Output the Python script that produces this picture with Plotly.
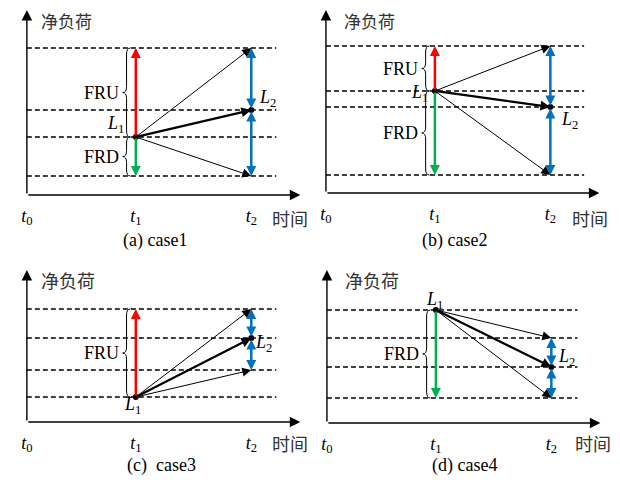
import plotly.graph_objects as go

# ---------------- data ----------------
CAPTIONS = ["(a) case1", "(b) case2", "(c)  case3", "(d) case4"]
L1 = [5.8, 10.2, 2.5, 11.3]          # net load at t1
L2 = [8.5, 8.6, 8.4, 5.6]            # net load at t2
FRU_TOP = [14.7, 14.7, 11.3, None]   # L1 + FRU
FRD_BOTTOM = [1.9, 1.8, None, 2.5]   # L1 - FRD
T2_UPPER = [14.7, 14.7, 11.3, 8.5]   # upper reachable level at t2
T2_LOWER = [1.9, 1.8, 5.2, 2.5]      # lower reachable level at t2
TIME_POS = [0, 1, 2.06]
TIME_LABELS = ["<i>t</i><sub>0</sub>", "<i>t</i><sub>1</sub>", "<i>t</i><sub>2</sub>"]
Y_TITLE = "净负荷"
X_TITLE = "时间"
L1_TEXT = "<i>L</i><sub>1</sub>"
L2_TEXT = "<i>L</i><sub>2</sub>"

# ---------------- layout / style ----------------
W, H = 620, 484
OFF = 8               # page body margin compensation (px)
SX, SY = 110.0, 10.0  # px per data unit
YMIN = -6.0
PANELS = [
    dict(ox=21, oy=195, yrange=18.6, ytop=18.5, xtip=2.51, dash=2.29, ysize=17,
         l1=(-0.09, 1.3, "right"), l2=(0.05, 1.2), ylab=(0.11, 17.5), xlab=(2.42, -2.3), cap=(1.18, -4.5)),
    dict(ox=323, oy=193, yrange=18.4, ytop=18.3, xtip=2.51, dash=2.37, ysize=17,
         l1=(-0.045, -0.2, "right"), l2=(0.08, -1.3), ylab=(0.15, 17.3), xlab=(2.42, -2.5), cap=(1.18, -4.7)),
    dict(ox=21, oy=422, yrange=16, ytop=15.2, xtip=2.51, dash=2.29, ysize=18,
         l1=(-0.03, -0.8, "center"), l2=(0.02, -0.5), ylab=(0.11, 14.2), xlab=(2.42, -2.1), cap=(1.24, -4.3)),
    dict(ox=324, oy=423, yrange=16, ytop=15.3, xtip=2.51, dash=2.30, ysize=18,
         l1=(-0.01, 1.0, "center"), l2=(0.04, 1.0), ylab=(0.15, 14.3), xlab=(2.44, -2.0), cap=(1.26, -4.2)),
]
RED, GREEN, BLUE = "#FF0000", "#00B050", "#0070C0"
SERIF = "Liberation Serif"
CJK = "Noto Sans CJK SC"
XMAX = 2.55

fig = go.Figure()
layout = {}
shapes = []
annotations = []


def clamp(v):
    return min(1.0, max(0.0, v))


def arrow(xr, yr, x0, y0, x1, y1, color, width, head, size, both=False):
    annotations.append(dict(
        x=x1, y=y1, ax=x0, ay=y0, xref=xr, yref=yr, axref=xr, ayref=yr,
        text="", showarrow=True, arrowhead=head, arrowsize=size, arrowwidth=width,
        arrowcolor=color, arrowside="end+start" if both else "end",
        startarrowhead=head, startarrowsize=size, standoff=0, startstandoff=0))


def brace(xr, yr, t, y_a, y_b):
    ytop, ybot = max(y_a, y_b), min(y_a, y_b)
    ym = (ytop + ybot) / 2
    xe, xs, xt = t - 0.05, t - 0.085, t - 0.12
    r = min(0.6, (ytop - ybot) / 4)
    path = (f"M{xe},{ytop} Q{xs},{ytop} {xs},{ytop - r} L{xs},{ym + r} "
            f"Q{xs},{ym} {xt},{ym} Q{xs},{ym} {xs},{ym - r} L{xs},{ybot + r} "
            f"Q{xs},{ybot} {xe},{ybot}")
    shapes.append(dict(type="path", path=path, xref=xr, yref=yr,
                       line=dict(color="black", width=1)))
    return xt, ym


def text(xr, yr, x, y, s, size=18, family=SERIF, xanchor="center", color="black"):
    annotations.append(dict(x=x, y=y, xref=xr, yref=yr, text=s, showarrow=False,
                            xanchor=xanchor, yanchor="middle",
                            font=dict(family=family, size=size, color=color)))


for i, p in enumerate(PANELS):
    n = "" if i == 0 else str(i + 1)
    xr, yr = "x" + n, "y" + n
    ox, oy = p["ox"] - OFF, p["oy"] - OFF
    x0p = ox / W
    x1p = (ox + XMAX * SX) / W
    y_axis_p = (H - oy) / H
    y0p = (H - oy + YMIN * SY) / H
    y1p = (H - oy + p["yrange"] * SY) / H
    layout["xaxis" + n] = dict(domain=[clamp(x0p), clamp(x1p)], range=[0, XMAX], anchor="free",
                               position=y_axis_p,
                               showgrid=False, zeroline=False, showline=False,
                               tickvals=TIME_POS, ticktext=TIME_LABELS,
                               ticks="outside", ticklen=4, tickcolor="rgba(0,0,0,0)",
                               tickfont=dict(family=SERIF, size=18, color="black"))
    layout["yaxis" + n] = dict(domain=[clamp(y0p), clamp(y1p)], range=[YMIN, p["yrange"]], anchor=xr,
                               visible=False)

    t1, t2 = TIME_POS[1], TIME_POS[2]
    levels = sorted({v for v in [L1[i], L2[i], FRU_TOP[i], FRD_BOTTOM[i], T2_UPPER[i], T2_LOWER[i]] if v is not None})
    for lv in levels:
        fig.add_trace(go.Scatter(x=[0, p["dash"]], y=[lv, lv], mode="lines", xaxis=xr, yaxis=yr,
                                 line=dict(color="black", width=1.3, dash="5px,3px"),
                                 showlegend=False, hoverinfo="skip"))

    # axes with arrows
    arrow(xr, yr, 0, 0, p["xtip"], 0, "black", 1.4, 2, 1.5)
    arrow(xr, yr, 0, 0, 0, p["ytop"], "black", 1.4, 2, 1.5)

    # FRU / FRD
    if FRU_TOP[i] is not None:
        arrow(xr, yr, t1, L1[i], t1, FRU_TOP[i], RED, 2.5, 2, 0.8)
        xt, ym = brace(xr, yr, t1, L1[i], FRU_TOP[i])
        text(xr, yr, xt - 0.02, ym, "FRU", xanchor="right")
    if FRD_BOTTOM[i] is not None:
        arrow(xr, yr, t1, L1[i], t1, FRD_BOTTOM[i], GREEN, 2.5, 2, 0.8)
        xt, ym = brace(xr, yr, t1, L1[i], FRD_BOTTOM[i])
        text(xr, yr, xt - 0.02, ym, "FRD", xanchor="right")

    # blue ranges at t2
    arrow(xr, yr, t2, L2[i], t2, T2_UPPER[i], BLUE, 2.5, 2, 0.8, both=True)
    arrow(xr, yr, t2, L2[i], t2, T2_LOWER[i], BLUE, 2.5, 2, 0.8, both=True)

    # black trajectories
    arrow(xr, yr, t1, L1[i], t2, T2_UPPER[i], "black", 1, 2, 1.8)
    arrow(xr, yr, t1, L1[i], t2, T2_LOWER[i], "black", 1, 2, 1.8)
    arrow(xr, yr, t1, L1[i], t2, L2[i], "black", 2.2, 2, 0.9)

    fig.add_trace(go.Scatter(x=[t1, t2], y=[L1[i], L2[i]], mode="markers", xaxis=xr, yaxis=yr,
                             marker=dict(color="black", size=6), cliponaxis=False,
                             showlegend=False, hoverinfo="skip"))

    dx, dy, anc = p["l1"]
    text(xr, yr, t1 + dx, L1[i] + dy, L1_TEXT, xanchor=anc)
    dx, dy = p["l2"]
    text(xr, yr, t2 + dx, L2[i] + dy, L2_TEXT, xanchor="left")

    text(xr, yr, p["ylab"][0], p["ylab"][1], Y_TITLE, size=p["ysize"], family=CJK, xanchor="left", color="#333")
    text(xr, yr, p["xlab"][0], p["xlab"][1], X_TITLE, size=18, family=CJK, xanchor="center", color="#333")
    text(xr, yr, p["cap"][0], p["cap"][1], CAPTIONS[i], size=18, xanchor="center")

fig.update_layout(width=W, height=H, margin=dict(l=0, r=0, t=0, b=0),
                  paper_bgcolor="white", plot_bgcolor="white",
                  shapes=shapes, annotations=annotations, **layout)
fig.write_html("out.html")
